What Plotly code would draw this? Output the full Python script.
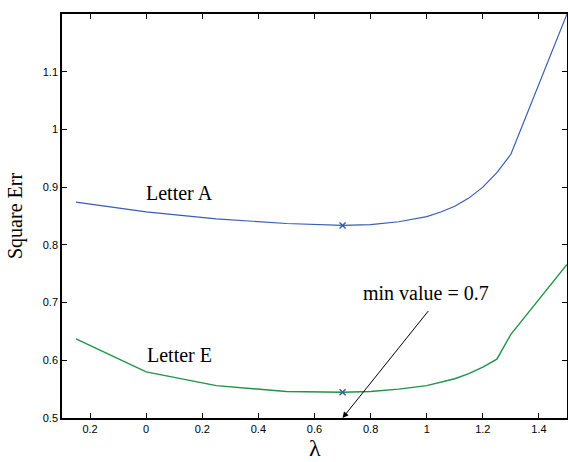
import plotly.graph_objects as go

# Data
lam_a = [-0.25, 0.0, 0.25, 0.5, 0.7, 0.8, 0.9, 1.0, 1.05, 1.1, 1.15, 1.2, 1.25, 1.3, 1.5]
err_a = [0.874, 0.857, 0.845, 0.837, 0.8336, 0.835, 0.840, 0.849, 0.857, 0.867, 0.881, 0.900, 0.925, 0.957, 1.2]

lam_e = [-0.25, 0.0, 0.25, 0.5, 0.7, 0.8, 0.9, 1.0, 1.1, 1.15, 1.2, 1.25, 1.3, 1.5]
err_e = [0.637, 0.580, 0.556, 0.546, 0.5447, 0.546, 0.550, 0.556, 0.568, 0.577, 0.588, 0.602, 0.645, 0.766]

min_lam = [0.7, 0.7]
min_err = [0.8336, 0.5447]

x_tickvals = [-0.2, 0, 0.2, 0.4, 0.6, 0.8, 1, 1.2, 1.4]
x_ticktext = ["0.2", "0", "0.2", "0.4", "0.6", "0.8", "1", "1.2", "1.4"]
y_tickvals = [0.5, 0.6, 0.7, 0.8, 0.9, 1.0, 1.1]
y_ticktext = ["0.5", "0.6", "0.7", "0.8", "0.9", "1", "1.1"]

blue = "#3a5bb8"
green = "#1e9448"

fig = go.Figure()
fig.add_trace(go.Scatter(x=lam_a, y=err_a, mode="lines",
                         line=dict(color=blue, width=1.2), showlegend=False))
fig.add_trace(go.Scatter(x=lam_e, y=err_e, mode="lines",
                         line=dict(color=green, width=1.4), showlegend=False))
fig.add_trace(go.Scatter(x=min_lam, y=min_err, mode="markers",
                         marker=dict(symbol="x-thin", size=6, color=blue,
                                     line=dict(color=blue, width=1.5)),
                         showlegend=False))

serif = "Liberation Serif"
fig.add_annotation(x=0.12, y=0.889, text="Letter A", showarrow=False,
                   font=dict(family=serif, size=20, color="black"))
fig.add_annotation(x=0.12, y=0.61, text="Letter E", showarrow=False,
                   font=dict(family=serif, size=20, color="black"))
fig.add_annotation(x=0.998, y=0.716, text="min value = 0.7", showarrow=False,
                   font=dict(family=serif, size=20, color="black"))
fig.add_annotation(x=0.7, y=0.5, ax=1.01, ay=0.688, xref="x", yref="y",
                   axref="x", ayref="y", text="", showarrow=True,
                   arrowhead=2, arrowsize=1.2, arrowwidth=1, arrowcolor="black",
                   standoff=0, startstandoff=0)
# x-axis title (lambda) placed below the tick labels
fig.add_annotation(x=0.5, y=-0.074, xref="paper", yref="paper", text="λ",
                   showarrow=False, yanchor="middle",
                   font=dict(family=serif, size=24, color="black"))

axis_common = dict(showgrid=False, zeroline=False, showline=True, linecolor="black",
                   linewidth=1.5, mirror="ticks", ticks="inside", ticklen=5,
                   tickcolor="black", tickwidth=1, automargin=False,
                   tickfont=dict(family="Liberation Sans", size=11, color="black"))

fig.update_layout(
    width=568, height=462,
    margin=dict(l=62, r=1, t=14, b=44),
    paper_bgcolor="white", plot_bgcolor="white",
    xaxis=dict(range=[-0.3, 1.5], tickvals=x_tickvals, ticktext=x_ticktext,
               **axis_common),
    yaxis=dict(range=[0.5, 1.2], tickvals=y_tickvals, ticktext=y_ticktext,
               title=dict(text="Square Err", font=dict(family=serif, size=20, color="black")),
               **axis_common),
)

fig.write_html("out.html")
